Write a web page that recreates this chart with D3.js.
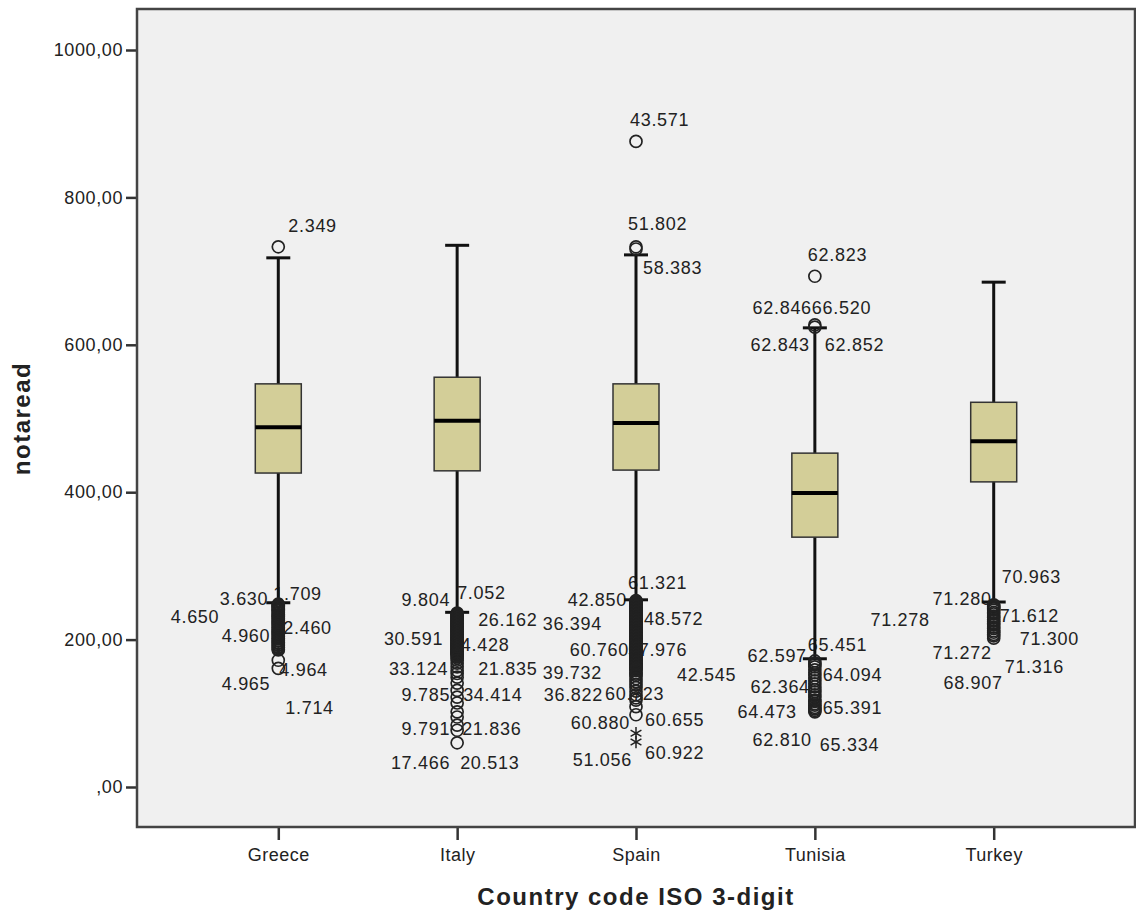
<!DOCTYPE html>
<html>
<head>
<meta charset="utf-8">
<script src="https://cdn.jsdelivr.net/npm/d3@7"></script>
<style>
  body { margin: 0; background: #fff; }
  svg { display: block; font-family: "Liberation Sans", Arial, sans-serif; }
</style>
</head>
<body>
<svg width="1136" height="918"></svg>
<script>
// box statistics
var countries = ["Greece", "Italy", "Spain", "Tunisia", "Turkey"];
var q1      = [426, 429, 430, 339, 414];
var median  = [488, 497, 494, 399, 469];
var q3      = [547, 556, 547, 453, 522];
var whiskLo = [250, 237, 254, 174, 251];
var whiskHi = [718, 735, 722, 623, 685];

// outliers (circles) and extremes (stars)
var outGreece  = [733, 248, 247, 246, 245, 244, 242, 241, 240, 239, 237, 236, 234, 233, 232, 231, 229, 228, 226, 225, 223, 222, 220, 219, 217, 216, 214, 213, 211, 210, 208, 207, 205, 204, 202, 201, 199, 198, 196, 195, 193, 192, 190, 189, 187, 186, 172, 161];
var outItaly   = [236, 235, 234, 233, 232, 231, 230, 229, 228, 227, 226, 225, 224, 223, 222, 221, 220, 219, 218, 217, 216, 215, 214, 213, 212, 211, 210, 209, 208, 207, 206, 205, 204, 203, 202, 201, 200, 199, 198, 197, 196, 195, 194, 193, 192, 191, 190, 189, 188, 187, 186, 185, 184, 183, 182, 181, 180, 179, 177, 175, 172, 168, 163, 158, 154, 149, 141, 131, 122, 114, 102, 95, 84, 77, 60];
var outSpain   = [876, 733, 730, 253, 252, 251, 250, 249, 248, 247, 246, 245, 244, 243, 242, 241, 240, 239, 238, 237, 236, 235, 234, 233, 232, 231, 230, 229, 228, 227, 226, 225, 224, 223, 222, 221, 220, 219, 218, 217, 216, 215, 214, 213, 212, 211, 210, 209, 208, 207, 206, 205, 204, 203, 202, 201, 200, 199, 198, 197, 196, 195, 194, 193, 192, 191, 190, 189, 188, 187, 186, 185, 184, 183, 182, 181, 180, 179, 178, 177, 176, 175, 174, 173, 172, 171, 170, 169, 168, 167, 166, 165, 164, 163, 162, 161, 160, 158, 155, 153, 151, 147, 143, 139, 135, 130, 125, 121, 118, 109, 98];
var outTunisia = [693, 627, 624, 171, 168, 166, 163, 159, 155, 152, 148, 144, 140, 136, 132, 129, 125, 122, 118, 116, 113, 111, 108, 106, 104, 102];
var outTurkey  = [247, 245, 244, 242, 240, 237, 235, 232, 230, 227, 225, 222, 220, 217, 215, 212, 210, 207, 205, 202];
var outliers = [outGreece, outItaly, outSpain, outTunisia, outTurkey];
var extremes = [[], [], [73, 61], [], []];

// case id labels: [country, text, value at label, dx from centre, anchor]
var caseLabels = [
  [0, "2.349", 762, 10, "start"], [0, "3.630", 256, -10, "end"], [0, "1.709", 263, -5, "start"],
  [0, "4.650", 231, -59, "end"], [0, "4.960", 205, -8, "end"], [0, "2.460", 216, 5, "start"],
  [0, "4.964", 160, 1, "start"], [0, "4.965", 141, -8, "end"], [0, "1.714", 108, 7, "start"],
  [1, "9.804", 254, -7, "end"], [1, "7.052", 264, 0, "start"], [1, "26.162", 227, 21, "start"],
  [1, "30.591", 202, -14, "end"], [1, "34.428", 193, -7, "start"], [1, "33.124", 161, -9, "end"],
  [1, "21.835", 161, 21, "start"], [1, "9.785", 125, -7, "end"], [1, "34.414", 125, 6, "start"],
  [1, "9.791", 80, -7, "end"], [1, "21.836", 80, 5, "start"], [1, "17.466", 33, -7, "end"],
  [1, "20.513", 33, 3, "start"],
  [2, "43.571", 905, -6, "start"], [2, "51.802", 764, -8, "start"], [2, "58.383", 705, 7, "start"],
  [2, "61.321", 277, -8, "start"], [2, "42.850", 254, -9, "end"], [2, "48.572", 229, 8, "start"],
  [2, "36.394", 222, -34, "end"], [2, "60.760", 186, -7, "end"], [2, "57.976", 186, -8, "start"],
  [2, "39.732", 156, -34, "end"], [2, "42.545", 152, 41, "start"], [2, "36.822", 125, -33, "end"],
  [2, "60.723", 127, -31, "start"], [2, "60.880", 87, -6, "end"], [2, "60.655", 91, 9, "start"],
  [2, "60.922", 47, 9, "start"], [2, "51.056", 37, -4, "end"],
  [3, "62.823", 722, -7, "start"], [3, "62.846", 651, -3, "end"], [3, "66.520", 651, -3, "start"],
  [3, "62.843", 600, -5, "end"], [3, "62.852", 600, 10, "start"], [3, "62.597", 179, -8, "end"],
  [3, "65.451", 193, -7, "start"], [3, "64.094", 152, 8, "start"], [3, "62.364", 136, -5, "end"],
  [3, "65.391", 108, 8, "start"], [3, "64.473", 102, -18, "end"], [3, "62.810", 64, -3, "end"],
  [3, "65.334", 57, 5, "start"],
  [4, "70.963", 285, 8, "start"], [4, "71.280", 256, -2, "end"], [4, "71.612", 233, 6, "start"],
  [4, "71.300", 202, 26, "start"], [4, "71.272", 183, -2, "end"], [4, "71.316", 163, 11, "start"],
  [4, "68.907", 142, 9, "end"], [4, "71.278", 227, -64, "end"]
];

var yTicks = [0, 200, 400, 600, 800, 1000];

var plotL = 137, plotR = 1135, plotT = 9, plotB = 827;
var svg = d3.select("svg");

var x = d3.scalePoint().domain(countries).range([plotL, plotR]).padding(0.79);
var y = d3.scaleLinear().domain([0, 1000]).range([787, 50]);

// plot area
svg.append("rect")
    .attr("x", plotL).attr("y", plotT)
    .attr("width", plotR - plotL).attr("height", plotB - plotT)
    .attr("fill", "#f0f0f0");

// axes
var yAxis = d3.axisLeft(y).tickValues(yTicks).tickSize(11).tickPadding(3)
    .tickFormat(d => d === 0 ? ",00" : d + ",00");
svg.append("g").attr("transform", "translate(" + plotL + ",0)").call(yAxis)
    .call(g => g.select(".domain").remove())
    .call(g => g.selectAll("line").attr("stroke", "#333").attr("stroke-width", 2.5))
    .call(g => g.selectAll("text").attr("font-size", 18).attr("fill", "#222")
        .style("font-family", "'Liberation Sans', Arial, sans-serif").attr("letter-spacing", 0.6));

var xAxis = d3.axisBottom(x).tickSize(13).tickPadding(8);
svg.append("g").attr("transform", "translate(0," + plotB + ")").call(xAxis)
    .call(g => g.select(".domain").remove())
    .call(g => g.selectAll("line").attr("stroke", "#333").attr("stroke-width", 2.5))
    .call(g => g.selectAll("text").attr("font-size", 18).attr("fill", "#222")
        .style("font-family", "'Liberation Sans', Arial, sans-serif").attr("letter-spacing", 0.5));

// case labels go under the marks
svg.append("g").selectAll("text")
    .data(caseLabels).enter().append("text")
    .attr("x", d => x(countries[d[0]]) + d[3])
    .attr("y", d => y(d[2]))
    .attr("dy", "0.36em")
    .attr("text-anchor", d => d[4])
    .attr("font-size", 18).attr("letter-spacing", 0.7).attr("fill", "#222")
    .text(d => d[1]);

var bw = 46, capW = 24;
var boxes = svg.append("g").selectAll("g")
    .data(countries).enter().append("g");

// whiskers
boxes.append("line")
    .attr("x1", d => x(d)).attr("x2", d => x(d))
    .attr("y1", (d, i) => y(whiskHi[i])).attr("y2", (d, i) => y(whiskLo[i]))
    .attr("stroke", "#111").attr("stroke-width", 3);
boxes.append("line")
    .attr("x1", d => x(d) - capW / 2).attr("x2", d => x(d) + capW / 2)
    .attr("y1", (d, i) => y(whiskHi[i])).attr("y2", (d, i) => y(whiskHi[i]))
    .attr("stroke", "#111").attr("stroke-width", 3);
boxes.append("line")
    .attr("x1", d => x(d) - capW / 2).attr("x2", d => x(d) + capW / 2)
    .attr("y1", (d, i) => y(whiskLo[i])).attr("y2", (d, i) => y(whiskLo[i]))
    .attr("stroke", "#111").attr("stroke-width", 3);

// boxes
boxes.append("rect")
    .attr("x", d => x(d) - bw / 2).attr("width", bw)
    .attr("y", (d, i) => y(q3[i]))
    .attr("height", (d, i) => y(q1[i]) - y(q3[i]))
    .attr("fill", "#d3ce98").attr("stroke", "#333").attr("stroke-width", 1.5);
boxes.append("line")
    .attr("x1", d => x(d) - bw / 2).attr("x2", d => x(d) + bw / 2)
    .attr("y1", (d, i) => y(median[i])).attr("y2", (d, i) => y(median[i]))
    .attr("stroke", "#000").attr("stroke-width", 4);

// outliers
boxes.selectAll("circle")
    .data((d, i) => outliers[i].map(v => [d, v])).enter().append("circle")
    .attr("cx", d => x(d[0])).attr("cy", d => y(d[1]))
    .attr("r", 6).attr("fill", "none")
    .attr("stroke", "#222").attr("stroke-width", 1.7);

var star = d3.symbol().type(d3.symbolAsterisk).size(110);
boxes.selectAll("path.ext")
    .data((d, i) => extremes[i].map(v => [d, v])).enter().append("path")
    .attr("class", "ext")
    .attr("d", star)
    .attr("transform", d => "translate(" + x(d[0]) + "," + y(d[1]) + ")")
    .attr("fill", "none").attr("stroke", "#222").attr("stroke-width", 1.5);

// frame
svg.append("rect")
    .attr("x", plotL).attr("y", plotT)
    .attr("width", plotR - plotL).attr("height", plotB - plotT)
    .attr("fill", "none").attr("stroke", "#444").attr("stroke-width", 2.5);

// axis titles
svg.append("text")
    .attr("x", (plotL + plotR) / 2).attr("y", 897).attr("dy", "0.35em")
    .attr("text-anchor", "middle")
    .attr("font-size", 24).attr("font-weight", "bold").attr("letter-spacing", 1.5)
    .attr("fill", "#222")
    .text("Country code ISO 3-digit");

svg.append("text")
    .attr("transform", "translate(22," + y(500) + ") rotate(-90)")
    .attr("dy", "0.35em")
    .attr("text-anchor", "middle")
    .attr("font-size", 24).attr("font-weight", "bold").attr("letter-spacing", 1.5)
    .attr("fill", "#222")
    .text("notaread");
</script>
</body>
</html>
